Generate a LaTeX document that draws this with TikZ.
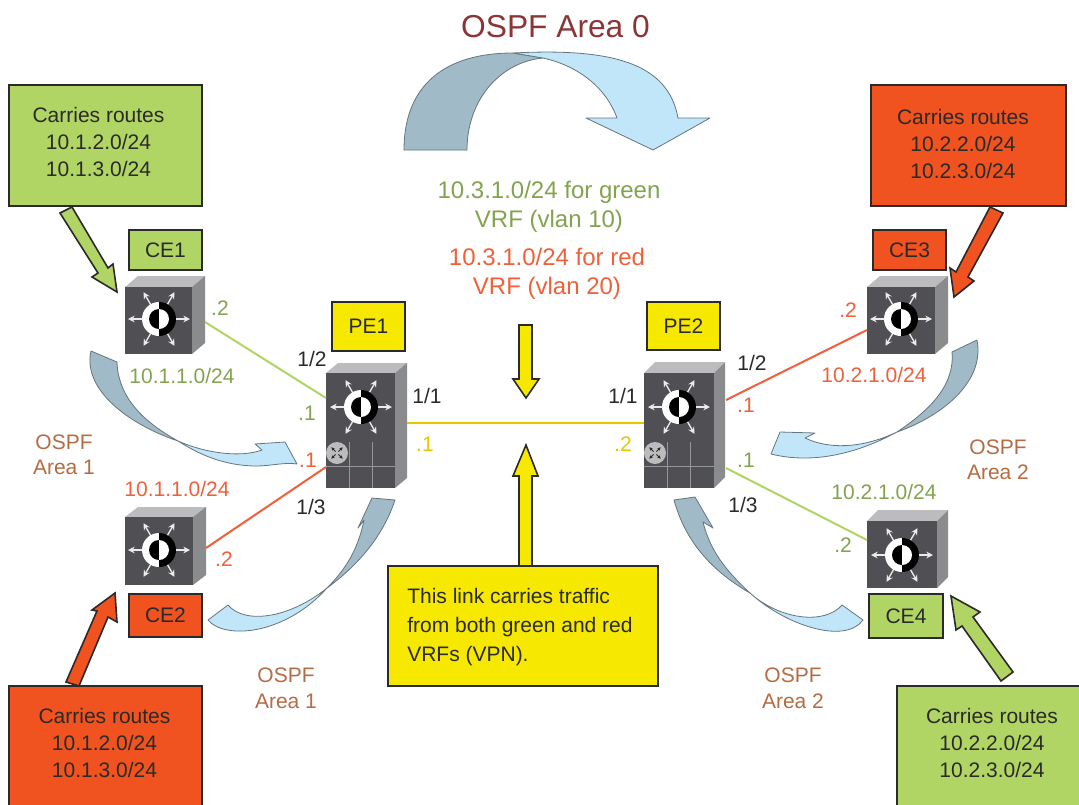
\documentclass[tikz,border=0pt]{standalone}
\usepackage{fontspec}
\setmainfont{Liberation Sans}
\usetikzlibrary{arrows.meta,calc}
\definecolor{bgreen}{HTML}{B1D564}
\definecolor{bred}{HTML}{F0531F}
\definecolor{byellow}{HTML}{F7E800}
\definecolor{swfront}{HTML}{504F54}
\definecolor{swtop}{HTML}{BCBCBE}
\definecolor{swside}{HTML}{8A8B8D}
\definecolor{lgreen}{HTML}{84A350}
\definecolor{lred}{HTML}{F0603A}
\definecolor{lyellow}{HTML}{E8C600}
\definecolor{lbrown}{HTML}{B46C45}
\definecolor{ltitle}{HTML}{8C3535}
\definecolor{txt}{HTML}{2A2A2A}
\definecolor{cdark}{HTML}{A1BAC8}
\definecolor{clight}{HTML}{C1E6FA}
\definecolor{cedge}{HTML}{66757E}
\tikzset{
  x=0.75pt,y=-0.75pt,
  lab/.style={inner sep=0pt,font=\fontsize{15.75}{20}\selectfont,text=txt},
  biglab/.style={inner sep=0pt,align=center,font=\fontsize{18}{21.5}\selectfont},
  routes/.style={lab,align=center,font=\fontsize{15.75}{20.25}\selectfont},
  pbox/.style={draw=txt,line width=1.2pt,inner sep=0pt,font=\fontsize{15.75}{20}\selectfont,text=txt},
  blockarrow/.style={draw=txt,line width=1.2pt,line join=miter},
  curvedark/.style={fill=cdark,draw=cedge,line width=0.6pt,line join=round},
  curvelight/.style={fill=clight,draw=cedge,line width=0.6pt,line join=round},
  wlink/.style={line width=1.5pt},
  iconarrow/.style={draw=white!92!black,line width=1pt,-{Stealth[length=5pt,width=5pt]}},
}
% box with its text
\newcommand{\rbox}[7]{\node[pbox,fill=#6,minimum width={(#4-#2)*0.75pt},minimum height={(#5-#3)*0.75pt}] (#1) at ({(#2+#4)/2},{(#3+#5)/2}) {#7};}
% switch: name, x1,y1,x2,y2 of the front, back x, top y
\newcommand{\swunit}[7]{%
  \fill[swtop] (#2,#3) -- (#6+#2-#4,#7) -- (#6,#7) -- (#4,#3) -- cycle;
  \fill[swside] (#4,#3) -- (#6,#7) -- (#6,#5-#3+#7) -- (#4,#5) -- cycle;
  \node[fill=swfront,inner sep=0pt,minimum width={(#4-#2)*0.75pt},minimum height={(#5-#3)*0.75pt}] (#1) at ({(#2+#4)/2},{(#3+#5)/2}) {};
}
% icon: centre x,y
\newcommand{\swicon}[2]{%
  \begin{scope}[shift={(#1,#2)}]
    \foreach \a in {0,60,120,180,240,300}{\draw[iconarrow] (\a:15) -- (\a:31);}
    \fill[white] (0,17) arc[start angle=90,end angle=270,radius=17] -- cycle;
    \fill[black] (0,-17) arc[start angle=-90,end angle=90,radius=17] -- cycle;
    \fill[black] (0,10) arc[start angle=90,end angle=270,radius=10] -- cycle;
    \fill[white] (0,-10) arc[start angle=-90,end angle=90,radius=10] -- cycle;
  \end{scope}}
% lower module of a PE: x1 (front left), x2, y2
\newcommand{\swmodule}[3]{%
  \draw[swside!90!white,line width=0.6pt] (#1,#3-22) -- (#2,#3-22);
  \draw[swside!90!white,line width=0.6pt] (#1+23,#3-46) -- (#1+23,#3);
  \draw[swside!90!white,line width=0.6pt] (#1+46,#3-46) -- (#1+46,#3);
  \fill[swtop] (#1+11,#3-35) circle[radius=11];
  \foreach \a in {45,135,225,315}{\draw[txt,line width=0.6pt,-{Stealth[length=2.5pt,width=2.5pt]}] ($(#1+11,#3-35)+(\a:2)$) -- ($(#1+11,#3-35)+(\a:8)$);}
}
\begin{document}
\begin{tikzpicture}
\useasboundingbox (0,0) rectangle (1079,804);
\fill[white] (0,0) rectangle (1079,804);

% curved arrows
\path[curvedark] (404,150) .. controls (404,85) and (445,53) .. (513,53) -- (543,58) .. controls (500,62) and (467,100) .. (467,150) -- cycle;
\path[curvelight] (513,53) .. controls (610,48) and (668,62) .. (678,118) -- (710,118) -- (653,150) -- (586,118) -- (617,118) .. controls (605,85) and (575,65) .. (543,58) -- cycle;

\path[curvedark] (91,351) -- (117,362) .. controls (118,395) and (140,420) .. (178,441) .. controls (130,425) and (82,390) .. (91,351) -- cycle;
\path[curvelight] (178,441) .. controls (205,453) and (240,458) .. (262,450) -- (255,444) -- (285,442) -- (297,464) .. controls (285,462) and (270,466) .. (257,466) .. controls (225,466) and (200,455) .. (178,441) -- cycle;

\path[curvelight] (208,620) .. controls (225,640) and (285,635) .. (327,588) .. controls (290,618) and (245,625) .. (228,605) -- cycle;
\path[curvedark] (327,588) .. controls (365,560) and (385,530) .. (395,500) -- (372,498) -- (358,528) -- (364,520) .. controls (358,550) and (345,570) .. (327,588) -- cycle;

\path[curvedark] (977,340) .. controls (985,380) and (945,415) .. (897,432) .. controls (930,410) and (955,385) .. (952,352) -- cycle;
\path[curvelight] (897,432) .. controls (860,452) and (815,465) .. (771,454) -- (780,432) -- (815,433) -- (805,438) .. controls (835,452) and (870,445) .. (897,432) -- cycle;

\path[curvedark] (674,500) .. controls (685,540) and (710,570) .. (750,593) .. controls (725,570) and (710,550) .. (703,522) -- (713,528) -- (695,497) -- cycle;
\path[curvelight] (750,593) .. controls (785,625) and (845,645) .. (863,620) -- (842,605) .. controls (825,625) and (780,620) .. (750,593) -- cycle;

% switches
\swunit{ce1}{125}{287}{192}{354}{205}{276}
\swicon{159}{319}
\swunit{ce2}{125}{517}{193}{585}{206}{507}
\swicon{159}{550}
\swunit{ce3}{867}{287}{935}{354}{948}{276}
\swicon{901}{319}
\swunit{ce4}{867}{521}{937}{588}{948}{510}
\swicon{902}{555}
\swunit{pe1}{326}{373}{395}{488}{407}{363}
\swicon{361}{407}
\swmodule{326}{395}{488}
\swunit{pe2}{644}{373}{714}{488}{725}{362}
\swicon{679}{407}
\swmodule{644}{714}{488}

% link ends
\coordinate (ce1p) at (205,322);
\coordinate (pe1a) at (326,398);
\coordinate (ce2p) at (206,548);
\coordinate (pe1b) at (326,467);
\coordinate (pe1c) at (407,423);
\coordinate (pe2c) at (644,423);
\coordinate (ce3p) at (867,330);
\coordinate (pe2a) at (726,400);
\coordinate (ce4p) at (867,540);
\coordinate (pe2b) at (726,468);
\draw[wlink,draw=bgreen] (ce1p) -- (pe1a);
\draw[wlink,draw=lred] (ce2p) -- (pe1b);
\draw[wlink,draw=lyellow] (pe1c) -- (pe2c);
\draw[wlink,draw=lred] (ce3p) -- (pe2a);
\draw[wlink,draw=bgreen] (ce4p) -- (pe2b);

% block arrows
\path[blockarrow,fill=bgreen] (72,207) -- (108,268) -- (113,264) -- (117,292) -- (92,277) -- (98,273) -- (60,213) -- cycle;
\path[blockarrow,fill=bred] (115,593) -- (117,622) -- (108,617) -- (79,686) -- (66,682) -- (97,611) -- (92,610) -- cycle;
\path[blockarrow,fill=bred] (990,207) -- (1003,213) -- (968,277) -- (974,281) -- (954,297) -- (950,268) -- (956,272) -- cycle;
\path[blockarrow,fill=bgreen] (951,596) -- (980,612) -- (973,617) -- (1013,672) -- (1001,681) -- (962,626) -- (956,630) -- cycle;
\path[blockarrow,fill=byellow] (519,325) -- (532,325) -- (532,379) -- (539,379) -- (526,398) -- (513,379) -- (519,379) -- cycle;
\path[blockarrow,fill=byellow] (519,566) -- (532,566) -- (532,476) -- (538,476) -- (526,445) -- (513,476) -- (519,476) -- cycle;

% boxes
\rbox{boxa}{9}{85}{202}{206}{bgreen}{}
\rbox{boxb}{9}{686}{202}{808}{bred}{}
\rbox{boxc}{871}{85}{1066}{206}{bred}{}
\rbox{boxd}{897}{686}{1084}{808}{bgreen}{}
\rbox{boxe}{388}{566}{658}{686}{byellow}{}
\rbox{lce1}{129}{230}{202}{270}{bgreen}{CE1}
\rbox{lce2}{129}{594}{202}{637}{bred}{CE2}
\rbox{lce3}{873}{230}{946}{270}{bred}{CE3}
\rbox{lce4}{869}{594}{943}{638}{bgreen}{CE4}
\rbox{lpe1}{332}{302}{405}{351}{byellow}{PE1}
\rbox{lpe2}{647}{302}{720}{350}{byellow}{PE2}

\node[routes] (ta) at (98.5,142) {Carries routes\\10.1.2.0/24\\10.1.3.0/24};
\node[routes] (tb) at (104.5,743) {Carries routes\\10.1.2.0/24\\10.1.3.0/24};
\node[routes] (tc) at (963,144) {Carries routes\\10.2.2.0/24\\10.2.3.0/24};
\node[routes] (td) at (992,743) {Carries routes\\10.2.2.0/24\\10.2.3.0/24};
\node[lab,align=left,anchor=west,font=\fontsize{15.75}{21.75}\selectfont] (te) at (407,627) {This link carries traffic\\from both green and red\\VRFs (VPN).};

% title and centre labels
\node[inner sep=0pt,text=ltitle,font=\fontsize{23.8}{28}\selectfont] (title) at (555.5,27) {OSPF Area 0};
\node[biglab,text=lgreen] (vg) at (549,206.5) {10.3.1.0/24 for green\\VRF (vlan 10)};
\node[biglab,text=lred] (vr) at (547,274) {10.3.1.0/24 for red\\VRF (vlan 20)};

% green labels
\node[lab,text=lgreen] (g1) at (220,308) {.2};
\node[lab,text=lgreen] (g2) at (182,376) {10.1.1.0/24};
\node[lab,text=lgreen] (g3) at (307,413) {.1};
\node[lab,text=lgreen] (g4) at (746,460) {.1};
\node[lab,text=lgreen] (g5) at (884,492) {10.2.1.0/24};
\node[lab,text=lgreen] (g6) at (843,545) {.2};
% red labels
\node[lab,text=lred] (r1) at (308,460) {.1};
\node[lab,text=lred] (r2) at (177,489) {10.1.1.0/24};
\node[lab,text=lred] (r3) at (224,559) {.2};
\node[lab,text=lred] (r4) at (746,405) {.1};
\node[lab,text=lred] (r5) at (874,375) {10.2.1.0/24};
\node[lab,text=lred] (r6) at (848,310) {.2};
% yellow labels
\node[lab,text=lyellow] (y1) at (425,444) {.1};
\node[lab,text=lyellow] (y2) at (623,444) {.2};
% port labels
\node[lab] (p1) at (312,359) {1/2};
\node[lab] (p2) at (427,396) {1/1};
\node[lab] (p3) at (311,507) {1/3};
\node[lab] (p4) at (623,396) {1/1};
\node[lab] (p5) at (752,363) {1/2};
\node[lab] (p6) at (743,505) {1/3};
% area labels
\node[lab,text=lbrown,align=center,font=\fontsize{15.75}{18.75}\selectfont] (a1) at (64,455) {OSPF\\Area 1};
\node[lab,text=lbrown,align=center,font=\fontsize{15.75}{19.5}\selectfont] (a2) at (286,688) {OSPF\\Area 1};
\node[lab,text=lbrown,align=center,font=\fontsize{15.75}{19.5}\selectfont] (a3) at (793,688) {OSPF\\Area 2};
\node[lab,text=lbrown,align=center,font=\fontsize{15.75}{18.75}\selectfont] (a4) at (998,460) {OSPF\\Area 2};
\end{tikzpicture}
\end{document}
